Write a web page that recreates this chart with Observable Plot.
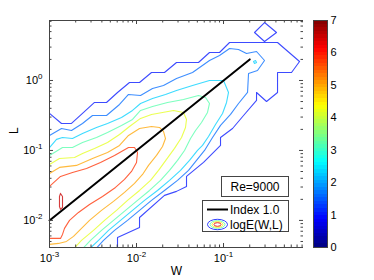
<!DOCTYPE html>
<html><head><meta charset="utf-8">
<script src="https://cdn.jsdelivr.net/npm/d3@7"></script>
<script src="https://cdn.jsdelivr.net/npm/@observablehq/plot@0.6"></script>
<style>
body{margin:0;background:#fff;}
#wrap{position:relative;width:374px;height:280px;font-family:"Liberation Sans",Arial,Helvetica,sans-serif;}
#main{position:absolute;left:0;top:0;}
#cbar{position:absolute;left:303px;top:0;}
</style></head><body><div id="wrap"><div id="main"></div><div id="cbar"></div></div>
<script>
// ---- data ----
const xDomain = [0.001, 0.83];
const yDomain = [0.0041, 7.2];
const xMajorTicks = [1e-3, 1e-2, 1e-1];
const xTickLabels = ["10^-3", "10^-2", "10^-1"];
const yMajorTicks = [1e-2, 1e-1, 1e0];
const yTickLabels = ["10^-2", "10^-1", "10^0"];
const colorTicks = [0, 1, 2, 3, 4, 5, 6, 7];

// reference line "Index 1.0"
const indexW = [0.001, 0.2];
const indexL = [0.01, 2.0];

// contour levels of logE(W,L) and their traced paths [W, L]
const contourLevels = [1.0, 1.0, 1.6, 2.3, 2.3, 3.2, 4.2, 5.0, 5.8, 6.5];
const outer10 = [[1.00e-3,0.338],[1.374e-3,0.243],[1.790e-3,0.243],[2.395e-3,0.338],[3.290e-3,0.485],[4.521e-3,0.485],[6.048e-3,0.674],[8.307e-3,0.936],[1.083e-2,0.936],[1.487e-2,1.300],[2.097e-2,1.300],[2.882e-2,1.807],[5.157e-2,1.807],[6.900e-2,2.512],[8.995e-2,2.512],[0.1173,3.490],[0.4175,3.490],[0.7475,1.868],[0.6048,1.300],[0.4175,1.300],[0.4175,0.674],[0.3121,0.501],[0.2395,0.674],[0.2395,0.518],[0.1698,0.316],[0.1269,0.206],[9.235e-2,0.153],[9.235e-2,0.118],[5.890e-2,0.0674],[3.755e-2,0.0425],[3.755e-2,0.0306],[2.882e-2,0.0260],[2.097e-2,0.0228],[1.083e-2,0.0110],[1.083e-2,0.00794],[6.048e-3,0.00572],[6.048e-3,0.0040]];
const island10 = [[0.2271,4.849],[0.2960,6.738],[0.4065,4.849],[0.2960,3.606],[0.2271,4.849]];
const c16 = [[1.00e-3,0.164],[1.374e-3,0.206],[1.790e-3,0.193],[2.395e-3,0.243],[3.121e-3,0.316],[4.521e-3,0.316],[6.377e-3,0.454],[8.089e-3,0.631],[1.112e-2,0.611],[1.527e-2,0.769],[2.042e-2,0.849],[2.882e-2,1.068],[4.402e-2,1.300],[6.900e-2,1.930],[8.995e-2,2.276],[0.1173,2.864],[0.1487,2.772],[0.1837,2.429],[0.2395,2.595],[0.2960,1.930],[0.2457,1.390],[0.1938,1.259],[0.1888,0.674],[0.1487,0.469],[0.1204,0.327],[9.235e-2,0.228],[7.475e-2,0.153],[6.048e-2,0.100],[4.892e-2,0.0720],[3.960e-2,0.0518],[2.960e-2,0.0373],[2.097e-2,0.0268],[1.487e-2,0.0193],[1.083e-2,0.0139],[7.881e-3,0.0100],[5.585e-3,0.00720],[4.175e-3,0.00518],[3.45e-3,0.0040]];
const c23 = [[1.00e-3,0.110],[1.204e-3,0.144],[1.411e-3,0.153],[1.837e-3,0.148],[2.395e-3,0.175],[3.468e-3,0.213],[4.642e-3,0.243],[6.723e-3,0.296],[8.995e-3,0.373],[1.112e-2,0.469],[1.527e-2,0.553],[2.153e-2,0.631],[2.882e-2,0.720],[4.402e-2,0.849],[6.900e-2,1.000],[0.1000,1.000],[0.1141,0.674],[0.1083,0.485],[9.739e-2,0.338],[8.089e-2,0.235],[6.723e-2,0.158],[5.734e-2,0.118],[5.025e-2,0.100],[4.065e-2,0.0720],[3.204e-2,0.0518],[2.395e-2,0.0373],[1.742e-2,0.0268],[1.236e-2,0.0193],[8.995e-3,0.0139],[6.544e-3,0.0100],[4.767e-3,0.00720],[3.656e-3,0.00518],[2.93e-3,0.0040]];
const c23dot = [[0.2212,1.868],[0.2331,1.930],[0.2395,1.807],[0.2271,1.749],[0.2212,1.868]];
const c32 = [[1.00e-3,0.0849],[1.411e-3,0.110],[1.837e-3,0.110],[2.395e-3,0.130],[3.468e-3,0.153],[4.642e-3,0.181],[6.723e-3,0.228],[8.995e-3,0.277],[1.112e-2,0.373],[1.527e-2,0.425],[2.271e-2,0.485],[3.468e-2,0.535],[5.157e-2,0.611],[6.210e-2,0.572],[6.900e-2,0.469],[6.544e-2,0.349],[5.585e-2,0.251],[4.767e-2,0.193],[4.175e-2,0.148],[3.562e-2,0.100],[2.960e-2,0.0720],[2.395e-2,0.0518],[1.888e-2,0.0373],[1.411e-2,0.0268],[1.027e-2,0.0193],[7.475e-3,0.0139],[5.439e-3,0.0100],[3.960e-3,0.00720],[2.960e-3,0.00518],[2.43e-3,0.0040]];
const c42 = [[1.00e-3,0.0631],[1.302e-3,0.0769],[1.938e-3,0.0794],[2.395e-3,0.0906],[3.290e-3,0.107],[4.642e-3,0.130],[6.377e-3,0.169],[8.307e-3,0.220],[1.112e-2,0.287],[1.487e-2,0.327],[1.990e-2,0.349],[2.663e-2,0.373],[3.468e-2,0.349],[3.755e-2,0.277],[3.656e-2,0.213],[3.290e-2,0.153],[2.733e-2,0.107],[2.212e-2,0.0744],[1.790e-2,0.0518],[1.449e-2,0.0373],[1.083e-2,0.0268],[7.881e-3,0.0193],[5.890e-3,0.0139],[4.287e-3,0.0100],[3.204e-3,0.00720],[2.331e-3,0.00518],[1.92e-3,0.0040]];
const c50 = [[1.00e-3,0.0469],[1.302e-3,0.0572],[2.042e-3,0.0611],[3.121e-3,0.0769],[4.642e-3,0.0936],[6.377e-3,0.118],[8.089e-3,0.164],[1.083e-2,0.206],[1.487e-2,0.220],[1.837e-2,0.213],[2.042e-2,0.187],[2.153e-2,0.148],[1.990e-2,0.114],[1.698e-2,0.0849],[1.374e-2,0.0611],[1.173e-2,0.0454],[9.484e-3,0.0338],[7.276e-3,0.0251],[5.439e-3,0.0187],[3.960e-3,0.0139],[2.882e-3,0.0100],[2.271e-3,0.00744],[1.888e-3,0.00591],[1.568e-3,0.00501],[1.269e-3,0.00469],[1.00e-3,0.00454]];
const c58 = [[1.00e-3,0.0306],[1.338e-3,0.0425],[1.837e-3,0.0485],[2.663e-3,0.0553],[3.855e-3,0.0674],[5.585e-3,0.0849],[8.089e-3,0.110],[9.484e-3,0.110],[1.027e-2,0.0936],[1.000e-2,0.0674],[8.759e-3,0.0501],[7.276e-3,0.0385],[5.734e-3,0.0296],[4.065e-3,0.0220],[2.882e-3,0.0169],[2.153e-3,0.0130],[1.698e-3,0.0100],[1.487e-3,0.00769],[1.411e-3,0.00631],[1.338e-3,0.00553],[1.00e-3,0.00553]];
const c65 = [[1.338e-3,0.0243],[1.411e-3,0.0220],[1.411e-3,0.0153],[1.338e-3,0.0144],[1.302e-3,0.0158],[1.302e-3,0.0220],[1.338e-3,0.0243]];
const contourPaths = [outer10, island10, c16, c23, c23dot, c32, c42, c50, c58, c65];

// ---- rendering ----
function jet(t) {
  const c = v => Math.max(0, Math.min(1, v));
  const r = c(1.5 - Math.abs(4 * t - 3)), g = c(1.5 - Math.abs(4 * t - 2)), b = c(1.5 - Math.abs(4 * t - 1));
  return `rgb(${Math.round(r * 255)},${Math.round(g * 255)},${Math.round(b * 255)})`;
}
const colorOpts = {type: "linear", domain: [0, 7], interpolate: jet};
const font = '"Liberation Sans", Arial, Helvetica, sans-serif';

const contourRows = contourPaths.flatMap((pts, i) => pts.map(([W, L]) => ({W, L, level: contourLevels[i], id: i})));
const indexRows = indexW.map((W, i) => ({W, L: indexL[i]}));

const isMajor = (arr) => v => arr.some(m => Math.abs(m - v) / m < 1e-6);
const xMinor = d3.scaleLog().domain(xDomain).ticks().filter(v => !isMajor(xMajorTicks)(v));
const yMinor = d3.scaleLog().domain(yDomain).ticks().filter(v => !isMajor(yMajorTicks)(v));

const innerW = 305 - 49 - 2, innerH = 280 - 20 - 33;
const tickC = "#444";
const main = Plot.plot({
  width: 305, height: 280,
  marginLeft: 49, marginRight: 2, marginTop: 20, marginBottom: 33,
  style: {fontFamily: font, fontSize: "11px", background: "white", overflow: "visible"},
  x: {type: "log", domain: xDomain, axis: null},
  y: {type: "log", domain: yDomain, axis: null},
  color: colorOpts,
  marks: [
    Plot.line(contourRows, {x: "W", y: "L", z: "id", stroke: "level", strokeWidth: 1.1, strokeOpacity: 0.76, clip: true}),
    Plot.line(indexRows, {x: "W", y: "L", stroke: "black", strokeWidth: 2}),
    Plot.frame({stroke: tickC}),
    Plot.ruleX(xMajorTicks, {x: d => d, insetTop: innerH - 4, stroke: tickC}),
    Plot.ruleX(xMajorTicks, {x: d => d, insetBottom: innerH - 4, stroke: tickC}),
    Plot.ruleX(xMinor, {x: d => d, insetTop: innerH - 2.5, stroke: tickC}),
    Plot.ruleX(xMinor, {x: d => d, insetBottom: innerH - 2.5, stroke: tickC}),
    Plot.ruleY(yMajorTicks, {y: d => d, insetRight: innerW - 4, stroke: tickC}),
    Plot.ruleY(yMajorTicks, {y: d => d, insetLeft: innerW - 4, stroke: tickC}),
    Plot.ruleY(yMinor, {y: d => d, insetRight: innerW - 2.5, stroke: tickC}),
    Plot.ruleY(yMinor, {y: d => d, insetLeft: innerW - 2.5, stroke: tickC}),
    Plot.text(xMajorTicks, {x: d => d, frameAnchor: "bottom", dy: 14, text: (d, i) => xTickLabels[i], fontSize: 11, fill: "black"}),
    Plot.text(yMajorTicks, {y: d => d, frameAnchor: "left", dx: -7, textAnchor: "end", text: (d, i) => yTickLabels[i], fontSize: 11, fill: "black"}),
    Plot.text(["W"], {frameAnchor: "bottom", dy: 27, text: d => d, fontSize: 12, fill: "black"}),
    Plot.text(["L"], {frameAnchor: "left", dx: -35, rotate: -90, text: d => d, fontSize: 12, fill: "black"})
  ]
});

function supify(svg) {
  svg.querySelectorAll("text").forEach(t => {
    const m = /^10\^(.+)$/.exec(t.textContent);
    if (!m) return;
    while (t.firstChild) t.removeChild(t.firstChild);
    t.appendChild(document.createTextNode("10"));
    const ts = document.createElementNS("http://www.w3.org/2000/svg", "tspan");
    ts.setAttribute("dy", "-5");
    ts.setAttribute("font-size", "8px");
    ts.textContent = m[1];
    t.appendChild(ts);
  });
}
supify(main);

// annotation boxes and legend
const s = d3.select(main);
const g = s.append("g").attr("font-family", font).attr("font-size", 12).attr("text-anchor", "start");
g.append("rect").attr("x", 221.5).attr("y", 176.5).attr("width", 67).attr("height", 20)
  .attr("fill", "white").attr("stroke", "#444");
g.append("text").attr("x", 255).attr("y", 190.5).attr("text-anchor", "middle").attr("fill", "black").text("Re=9000");
g.append("rect").attr("x", 202.5).attr("y", 200.5).attr("width", 86).attr("height", 31)
  .attr("fill", "white").attr("stroke", "#444");
g.append("line").attr("x1", 207).attr("x2", 228).attr("y1", 209.5).attr("y2", 209.5)
  .attr("stroke", "black").attr("stroke-width", 2);
g.append("text").attr("x", 230).attr("y", 214).attr("text-anchor", "start").attr("fill", "black").text("Index 1.0");
[[10, 5.2, 1.0], [7.5, 3.8, 3.2], [5.5, 2.8, 4.5], [3.5, 1.8, 6.3]].forEach(([rx, ry, lv]) => {
  g.append("ellipse").attr("cx", 217.5).attr("cy", 224.5).attr("rx", rx).attr("ry", ry)
    .attr("fill", "none").attr("stroke", jet(lv / 7)).attr("stroke-opacity", 0.8).attr("stroke-width", 1);
});
g.append("text").attr("x", 230).attr("y", 228.5).attr("text-anchor", "start").attr("fill", "black").text("logE(W,L)");

document.getElementById("main").appendChild(main);

// colorbar
const bands = d3.range(64);
const cb = Plot.plot({
  width: 71, height: 280,
  marginTop: 20, marginBottom: 33, marginLeft: 10, marginRight: 47,
  style: {fontFamily: font, fontSize: "11px", background: "white", overflow: "visible"},
  x: {domain: [0, 1], axis: null},
  y: {domain: [0, 7], axis: null},
  color: colorOpts,
  marks: [
    Plot.rect(bands, {x1: 0, x2: 1, y1: i => i * 7 / 64, y2: i => (i + 1) * 7 / 64, fill: i => (i + 0.5) * 7 / 64, shapeRendering: "crispEdges"}),
    Plot.frame({stroke: tickC}),
    Plot.text(colorTicks, {y: d => d, frameAnchor: "right", dx: 3, textAnchor: "start", text: d => String(d), fontSize: 11, fill: "black"})
  ]
});
document.getElementById("cbar").appendChild(cb);
</script></body></html>
